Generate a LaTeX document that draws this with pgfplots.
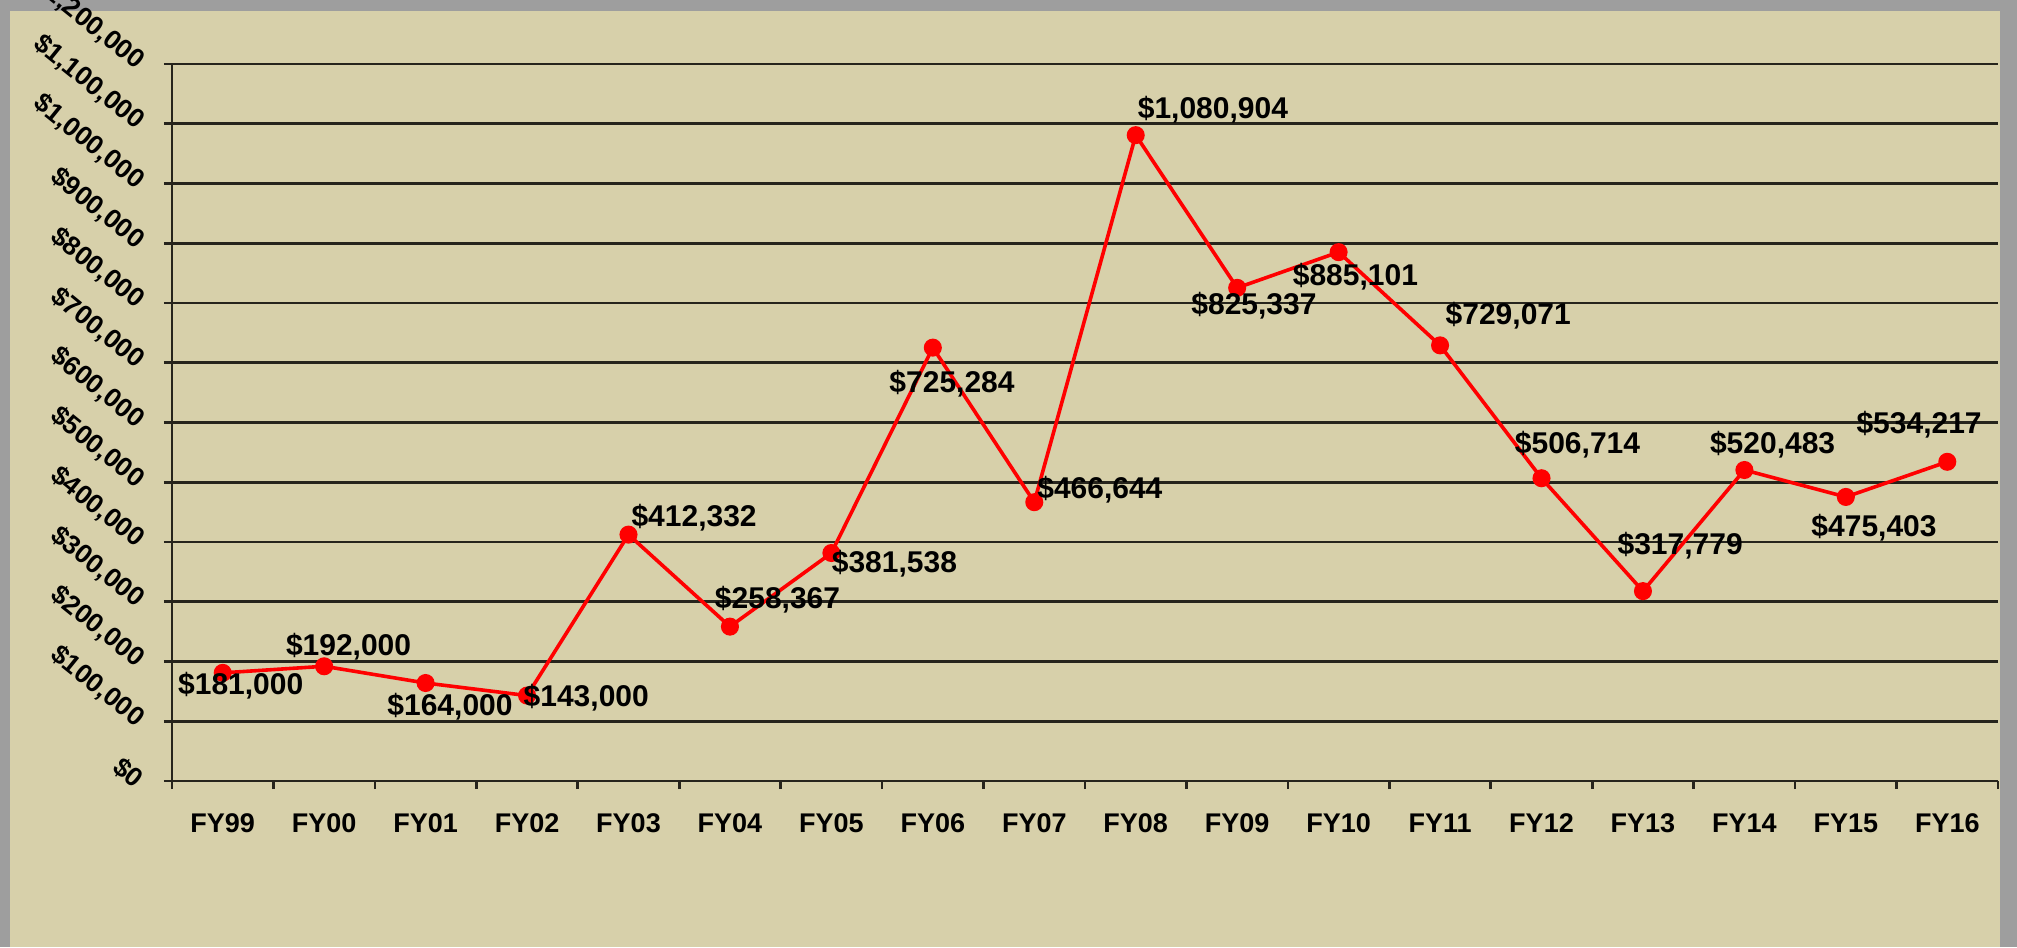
\documentclass[border=0pt]{standalone}
\usepackage{pgfplots}
\pgfplotsset{compat=1.18}
\usepackage{pgfplotstable}
\usepackage{fontspec}
\setmainfont{Liberation Sans}
\definecolor{bg}{RGB}{215,208,170}
\definecolor{framegray}{RGB}{158,158,158}
\definecolor{gridc}{RGB}{38,36,28}

\pgfplotstableread{
x y label dx dy
0.5 181000 181,000 9.0 -6.4
1.5 192000 192,000 12.2 9.6
2.5 164000 164,000 12.2 -11.6
3.5 143000 143,000 29.6 -1.3
4.5 412332 412,332 32.8 8.4
5.5 258367 258,367 23.8 13.5
6.5 381538 381,538 31.5 -5.1
7.5 725284 725,284 9.6 -18.0
8.5 466644 466,644 32.8 6.4
9.5 1080904 1,080,904 38.6 12.9
10.5 825337 825,337 8.4 -9.0
11.5 885101 885,101 8.4 -12.2
12.5 729071 729,071 34.1 14.8
13.5 506714 506,714 18.0 16.7
14.5 317779 317,779 18.6 22.5
15.5 520483 520,483 14.1 12.9
16.5 475403 475,403 14.1 -15.4
17.5 534217 534,217 -14.1 18.6
}\datatable

\begin{document}
\begin{tikzpicture}
\fill[framegray] (-86pt,-83pt) rectangle (922.5pt,390.5pt);
\fill[bg] (-81pt,-83pt) rectangle (914pt,385pt);
\begin{axis}[
  at={(0,0)}, anchor=south west,
  scale only axis, width=913pt, height=358.5pt,
  xmin=0, xmax=18, ymin=0, ymax=1200000,
  axis lines*=left,
  axis line style={gridc, line width=1.3pt},
  xtick={0,1,...,18},
  xticklabels={FY99,FY00,FY01,FY02,FY03,FY04,FY05,FY06,FY07,FY08,FY09,FY10,FY11,FY12,FY13,FY14,FY15,FY16,{}},
  xticklabel style={xshift=25.36pt, anchor=north, yshift=-9pt, font=\bfseries\fontsize{13.5}{16}\selectfont},
  ytick={0,100000,200000,300000,400000,500000,600000,700000,800000,900000,1000000,1100000,1200000},
  yticklabels={\$0,{\$100,000},{\$200,000},{\$300,000},{\$400,000},{\$500,000},{\$600,000},{\$700,000},{\$800,000},{\$900,000},{\$1,000,000},{\$1,100,000},{\$1,200,000}},
  yticklabel style={xshift=-15.5pt, yshift=-5pt, rotate=-39, anchor=south east, inner sep=0pt, font=\bfseries\fontsize{13.3}{15}\selectfont},
  scaled y ticks=false,
  ymajorgrids,
  grid style={gridc, line width=1.3pt},
  tick align=outside,
  major tick length=4pt,
  tick style={gridc, line width=1.3pt},
  /pgf/number format/assume math mode=true,
  clip=false,
]
\addplot[red, line width=1.8pt, mark=*, mark size=3.6pt, mark options={fill=red, draw=red},
  point meta=explicit symbolic,
  visualization depends on={\thisrow{dx} \as \dx},
  visualization depends on={\thisrow{dy} \as \dy},
  nodes near coords={\$\pgfplotspointmeta},
  nodes near coords style={anchor=center, xshift=\dx pt, yshift=\dy pt, text=black, font=\bfseries\fontsize{15}{18}\selectfont, inner sep=0pt},
] table[x=x, y=y, meta=label] {\datatable};
\end{axis}
\pgfresetboundingbox
\path[use as bounding box] (-86pt,-83pt) rectangle (922.5pt,390.5pt);
\end{tikzpicture}
\end{document}
